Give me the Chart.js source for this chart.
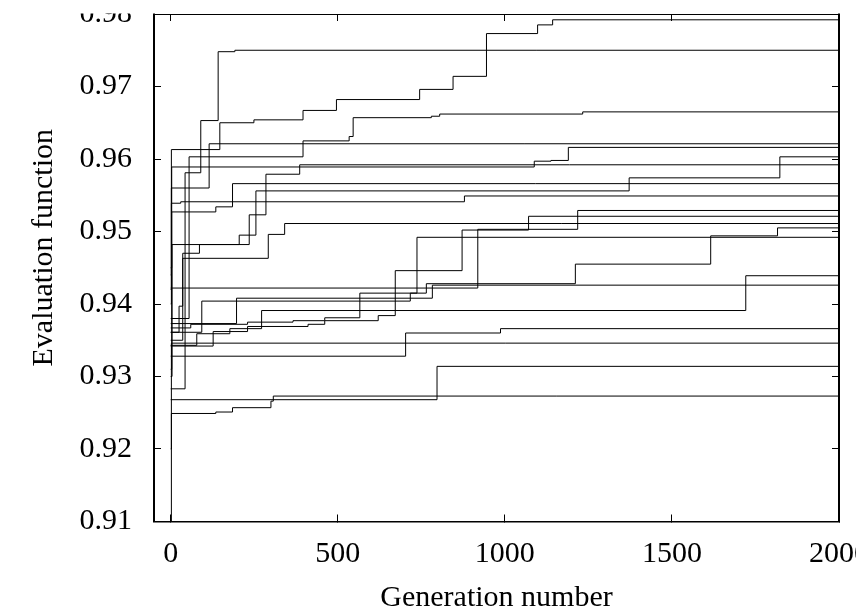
<!DOCTYPE html>
<html>
<head>
<meta charset="utf-8">
<title>Evaluation function vs generation</title>
<script src="https://cdn.jsdelivr.net/npm/chart.js@4.4.1/dist/chart.umd.min.js"></script>
<style>
    html, body { margin: 0; padding: 0; background: #fff; overflow: hidden; }
    #wrap { position: relative; width: 856px; height: 614px; overflow: hidden; background: #fff; }
    #box { position: absolute; left: 0; top: -40px; width: 900px; height: 660px; }
</style>
</head>
<body>
<div id="wrap"><div id="box"><canvas id="chart"></canvas></div></div>
<script>
// Tick values of the axes
const xTickValues = [0, 500, 1000, 1500, 2000];
const yTickValues = [0.91, 0.92, 0.93, 0.94, 0.95, 0.96, 0.97, 0.98];

// One run per array: [generation, best evaluation] at each improvement
const run01 = [[0, 0.9400], [2, 0.9613], [147, 0.9650], [249, 0.9654], [396, 0.9667], [496, 0.9682], [745, 0.9696], [845, 0.9714], [945, 0.9773], [1098, 0.9785], [1143, 0.9792], [2000, 0.9792]];
const run02 = [[0, 0.9283], [43, 0.9581], [90, 0.9653], [142, 0.9748], [192, 0.9750], [2000, 0.9750]];
const run03 = [[0, 0.9310], [3, 0.9527], [55, 0.9603], [396, 0.9625], [534, 0.9631], [546, 0.9657], [780, 0.9659], [805, 0.9662], [1233, 0.9665], [2000, 0.9665]];
const run04 = [[0, 0.9420], [2, 0.9560], [115, 0.9621], [2000, 0.9621]];
const run05 = [[0, 0.9450], [3, 0.9589], [1088, 0.9597], [1138, 0.9598], [1190, 0.9616], [2000, 0.9616]];
const run06 = [[0, 0.9300], [4, 0.9482], [205, 0.9495], [255, 0.9556], [1372, 0.9574], [1823, 0.9603], [2000, 0.9603]];
const run07 = [[0, 0.9350], [36, 0.9470], [86, 0.9482], [235, 0.9523], [285, 0.9579], [386, 0.9592], [2000, 0.9592]];
const run08 = [[0, 0.9380], [55, 0.9527], [135, 0.9534], [185, 0.9566], [2000, 0.9566]];
const run09 = [[0, 0.9440], [2, 0.9539], [30, 0.9541], [879, 0.9549], [2000, 0.9549]];
const run10 = [[0, 0.9422], [919, 0.9503], [1218, 0.9529], [2000, 0.9529]];
const run11 = [[0, 0.9342], [127, 0.9362], [230, 0.9369], [411, 0.9372], [461, 0.9377], [621, 0.9384], [672, 0.9446], [872, 0.9502], [1071, 0.9521], [2000, 0.9521]];
const run12 = [[0, 0.9361], [25, 0.9397], [36, 0.9463], [292, 0.9496], [341, 0.9511], [2000, 0.9511]];
const run13 = [[0, 0.9367], [60, 0.9372], [230, 0.9375], [366, 0.9377], [461, 0.9381], [566, 0.9415], [765, 0.9428], [1211, 0.9455], [1616, 0.9494], [1816, 0.9505], [2000, 0.9505]];
const run14 = [[0, 0.9361], [93, 0.9404], [717, 0.9415], [737, 0.9492], [2000, 0.9492]];
const run15 = [[0, 0.9343], [78, 0.9359], [177, 0.9366], [272, 0.9391], [1721, 0.9439], [2000, 0.9439]];
const run16 = [[0, 0.9373], [197, 0.9408], [783, 0.9426], [2000, 0.9426]];
const run17 = [[0, 0.9328], [703, 0.9360], [987, 0.9366], [2000, 0.9366]];
const run18 = [[0, 0.9200], [2, 0.9346], [2000, 0.9346]];
const run19 = [[0, 0.9268], [797, 0.9314], [2000, 0.9314]];
const run20 = [[0, 0.9100], [2, 0.9249], [135, 0.9251], [185, 0.9257], [300, 0.9266], [307, 0.9273], [2000, 0.9273]];

const runs = [run01, run02, run03, run04, run05, run06, run07, run08, run09, run10,
              run11, run12, run13, run14, run15, run16, run17, run18, run19, run20];

const serif = '"Liberation Serif", "Times New Roman", serif';
const tickFont = { family: serif, size: 30 };

// gnuplot style: frame on all four sides, ticks pointing inward
function frameAxis(axis, position, min, max, values, showLabels, borderWidth) {
    return {
        type: 'linear',
        axis: axis,
        position: position,
        min: min,
        max: max,
        afterBuildTicks: scale => { scale.ticks = values.map(v => ({ value: v })); },
        grid: { drawOnChartArea: false, drawTicks: true, tickLength: -7, color: '#000', lineWidth: 1 },
        border: { display: true, color: '#000', width: borderWidth },
        ticks: {
            display: showLabels,
            autoSkip: false,
            maxRotation: 0,
            color: '#000',
            font: tickFont,
            padding: axis === 'x' ? 22 : 29,
            callback: v => axis === 'y' ? v.toFixed(2) : String(v)
        }
    };
}

const xAxis = frameAxis('x', 'bottom', -50, 2000, xTickValues, true, 1.5);
xAxis.afterFit = s => { s.height = 98.5; };
const xTop = frameAxis('x', 'top', -50, 2000, xTickValues, false, 1);
xTop.afterFit = s => { s.height = 0; };
const yAxis = frameAxis('y', 'left', 0.91, 0.98, yTickValues, true, 2);
yAxis.afterFit = s => { s.width = 154; };
const yRight = frameAxis('y', 'right', 0.91, 0.98, yTickValues, false, 2);
yRight.afterFit = s => { s.width = 0; };

// Crop above the frame (the 0.98 label is cut in half) and draw axis titles
const framePlugin = {
    id: 'framePlugin',
    afterDraw(chart) {
        const ctx = chart.ctx;
        const area = chart.chartArea;
        ctx.save();
        ctx.fillStyle = '#fff';
        ctx.fillRect(0, 0, chart.width, area.top - 0.5);

        ctx.fillStyle = '#000';
        ctx.font = '30px ' + serif;
        ctx.textAlign = 'center';
        ctx.textBaseline = 'alphabetic';
        ctx.fillText('Generation number', (area.left + area.right) / 2, area.bottom + 84);

        ctx.translate(area.left - 102, (area.top + area.bottom) / 2 - 20);
        ctx.rotate(-Math.PI / 2);
        ctx.fillText('Evaluation function', 0, 0);
        ctx.restore();
    }
};

const ctx = document.getElementById('chart').getContext('2d');
new Chart(ctx, {
    type: 'line',
    data: {
        datasets: runs.map(run => ({
            data: run.map(p => ({ x: p[0], y: p[1] })),
            borderColor: '#000',
            borderWidth: 1,
            pointRadius: 0,
            stepped: true,
            fill: false
        }))
    },
    options: {
        responsive: true,
        maintainAspectRatio: false,
        animation: false,
        devicePixelRatio: 1,
        layout: { padding: { top: 54, right: 61, bottom: 0, left: 0 } },
        plugins: { legend: { display: false }, tooltip: { enabled: false } },
        scales: { x: xAxis, x2: xTop, y: yAxis, y2: yRight }
    },
    plugins: [framePlugin]
});
</script>
</body>
</html>
